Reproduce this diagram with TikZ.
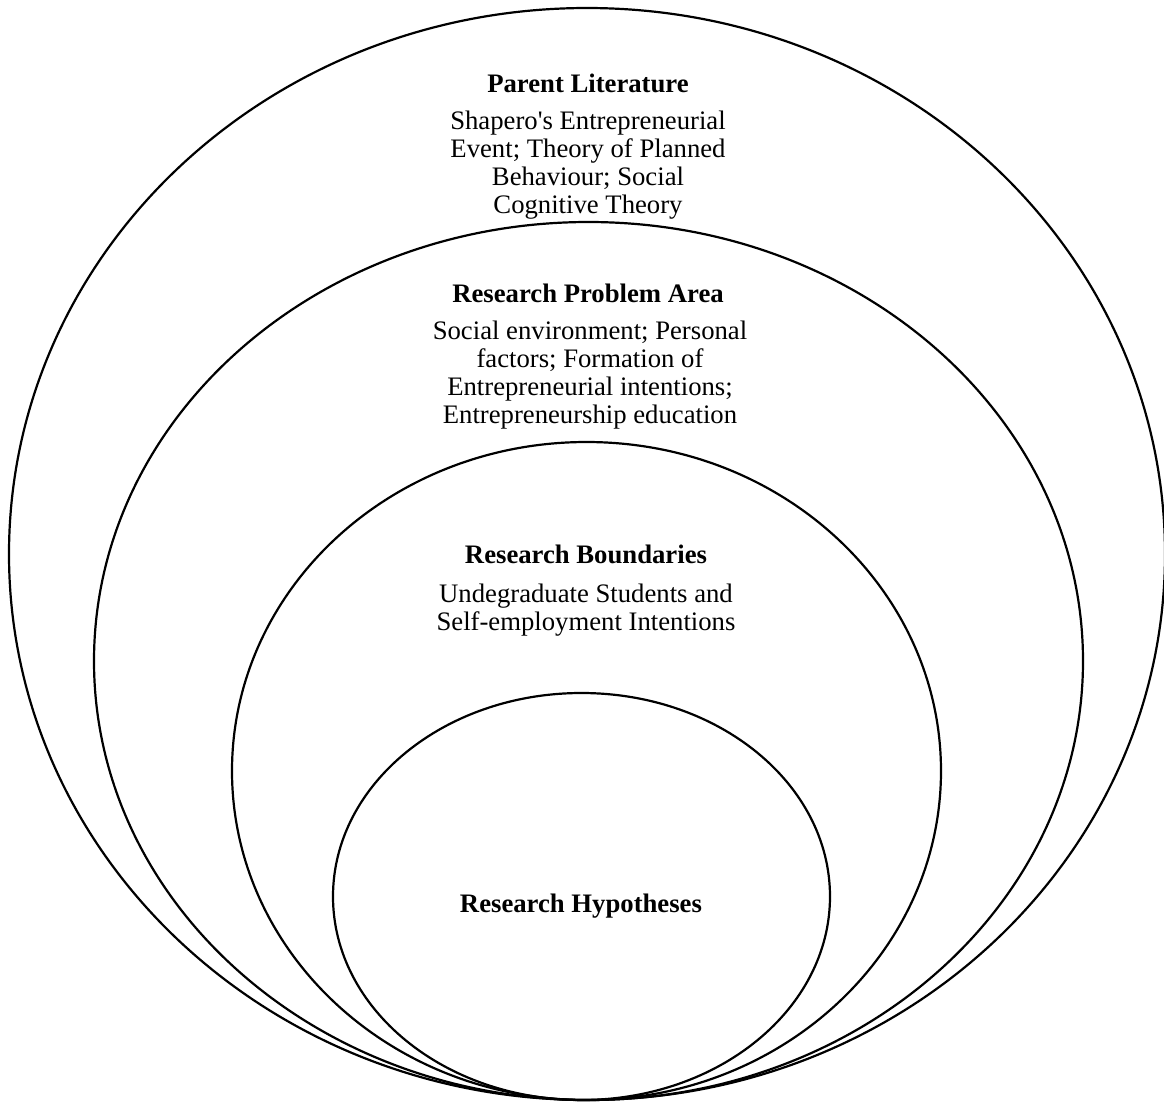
\documentclass[tikz,border=0pt]{standalone}
\usepackage{fontspec}
\setmainfont{Liberation Serif}[Ligatures=TeXOff]

\begin{document}
\begin{tikzpicture}[x=0.5pt,y=-0.5pt,
	ring/.style={line width=1.1pt},
	head/.style={font=\fontsize{13.35}{13.85}\selectfont\bfseries,anchor=base,inner sep=0pt},
	body/.style={font=\fontsize{13.35}{13.85}\selectfont,align=center,anchor=base,inner sep=0pt}]
	\useasboundingbox (0,0) rectangle (1164,1105);
	\draw[ring] (587,554) ellipse [x radius=578,y radius=546];
	\draw[ring] (588.5,661) ellipse [x radius=494.5,y radius=439];
	\draw[ring] (586.5,771) ellipse [x radius=354.5,y radius=329];
	\draw[ring] (581.5,896.5) ellipse [x radius=248.5,y radius=203.5];
	\node[head] (parent) at (588,92) {Parent Literature};
	\node[body] (parenttxt) at (588,213) {Shapero's Entrepreneurial\\Event; Theory of Planned\\Behaviour; Social\\Cognitive Theory};
	\node[head] (problem) at (588,302) {Research Problem Area};
	\node[body] (problemtxt) at (590,423) {Social environment; Personal\\factors; Formation of\\Entrepreneurial intentions;\\Entrepreneurship education};
	\node[head] (bounds) at (586,563) {Research Boundaries};
	\node[body] (boundstxt) at (586,630) {Undegraduate Students and\\Self-employment Intentions};
	\node[head] (hypo) at (581,912) {Research Hypotheses};
\end{tikzpicture}
\end{document}
